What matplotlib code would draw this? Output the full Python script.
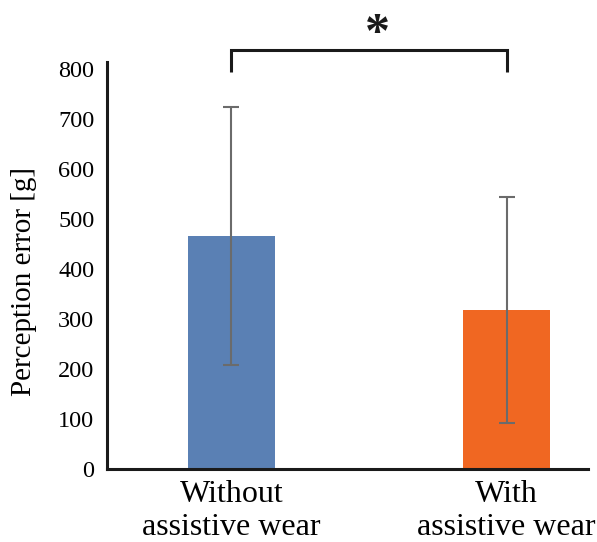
import matplotlib.pyplot as plt

conditions = ['Without\nassistive wear', 'With\nassistive wear']
mean_error = [466, 317]
sd_error = [258, 226]
bar_colors = ['#5a80b4', '#f06722']
sig_label = '*'

plt.rcParams['font.family'] = ['Liberation Serif', 'DejaVu Serif']

fig = plt.figure(figsize=(5.97, 5.42), dpi=100)
ax = fig.add_axes([0.179, 0.1356, 0.806, 0.7501])

x = range(len(conditions))
ax.bar(x, mean_error, width=0.316, color=bar_colors, zorder=2)
ax.errorbar(x, mean_error, yerr=sd_error, fmt='none', ecolor='#6b6b6b',
            elinewidth=1.5, capsize=5.5, capthick=1.5, zorder=3)

ax.set_xlim(-0.453, 1.296)
ax.set_ylim(0, 814)
ax.set_yticks(range(0, 801, 100))
ax.set_xticks(list(x))
ax.set_xticklabels(conditions, fontsize=23, linespacing=1.2)
ax.tick_params(axis='y', length=0, pad=9, labelsize=17.5)
ax.tick_params(axis='x', length=0, pad=8)
ax.set_ylabel('Perception error [g]', fontsize=21)
ax.yaxis.set_label_coords(-0.145, 0.46)

for side in ['top', 'right']:
    ax.spines[side].set_visible(False)
for side in ['left', 'bottom']:
    ax.spines[side].set_linewidth(2.2)
    ax.spines[side].set_color('#1a1a1a')

# significance bracket above the bars
ax.plot([0, 0, 1, 1], [794, 838, 838, 794], color='#1a1a1a', lw=2.2,
        clip_on=False, solid_capstyle='butt', solid_joinstyle='miter')
ax.text(0.53, 868, sig_label, ha='center', va='center', fontsize=36,
        fontweight='bold', color='#1a1a1a', clip_on=False)

fig.savefig('out.png', dpi=100)
